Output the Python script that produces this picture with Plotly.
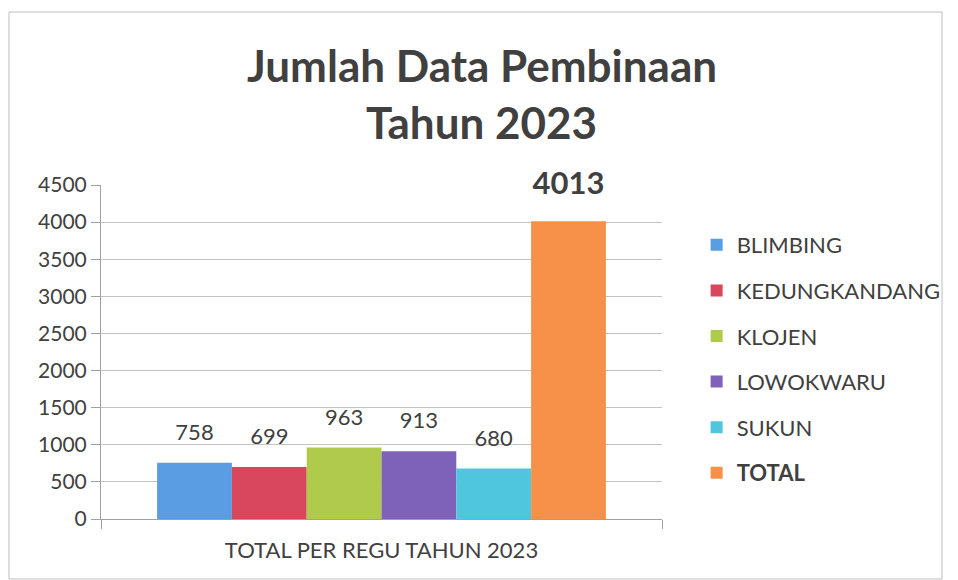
import plotly.graph_objects as go

category = ["TOTAL PER REGU TAHUN 2023"]
series_names = ["BLIMBING", "KEDUNGKANDANG", "KLOJEN", "LOWOKWARU", "SUKUN", "TOTAL"]
values = [758, 699, 963, 913, 680, 4013]
colors = ["#5A9DE2", "#D9475C", "#B0CB4C", "#7E62B9", "#4FC5DE", "#F7914A"]
title_lines = ["Jumlah Data Pembinaan", "Tahun 2023"]

W, H = 958, 580
L, R, T, B = 101, 290, 185, 61
pw, ph = W - L - R, H - T - B

def px_x(x):
    return (x - L) / pw

def px_y(y):
    return (H - B - y) / ph

FONT = "Lato"
GREY = "#404040"

fig = go.Figure()
for i, (name, v, c) in enumerate(zip(series_names, values, colors)):
    is_total = name == "TOTAL"
    if is_total:
        tmpl = "<span style='font-size:31px'><b>%{y}</b></span><br> "
    else:
        tmpl = "<span style='font-size:22px'>%{y}</span><br> "
    fig.add_trace(go.Bar(
        x=category, y=[v], name=("<b>%s</b>" % name) if is_total else name,
        marker=dict(color=c, line=dict(width=0)),
        texttemplate=tmpl,
        textposition="outside",
        textfont=dict(family=FONT, size=13 if not is_total else 16, color=GREY),
        cliponaxis=False,
        legendgroup="g%d" % i,
    ))

fig.update_layout(
    width=W, height=H,
    margin=dict(l=L, r=R, t=T, b=B),
    paper_bgcolor="white", plot_bgcolor="white",
    barmode="group", bargap=0.2, bargroupgap=0,
    font=dict(family=FONT, color=GREY),
    showlegend=True,
    legend=dict(x=px_x(703), y=px_y(224), xanchor="left", yanchor="top",
                font=dict(family=FONT, size=22, color=GREY),
                traceorder="grouped", tracegroupgap=14,
                bgcolor="rgba(0,0,0,0)"),
    xaxis=dict(showline=True, linecolor="#a0a0a0", linewidth=1,
               ticks="outside", tickson="boundaries", ticklen=9, tickcolor="#a0a0a0",
               ticklabelstandoff=12,
               tickfont=dict(family=FONT, size=22, color=GREY), showgrid=False),
    yaxis=dict(range=[0, 4500], dtick=500, showline=True, linecolor="#a0a0a0",
               ticks="outside", ticklen=9, tickcolor="#a0a0a0",
               gridcolor="#c4c4c4", gridwidth=1, zeroline=False,
               tickfont=dict(family=FONT, size=21, color=GREY)),
    shapes=[dict(type="rect", xref="paper", yref="paper",
                 x0=px_x(8), x1=px_x(951), y0=px_y(579), y1=px_y(12),
                 line=dict(color="#bdbdbd", width=1))],
)

for line, yy in zip(title_lines, [65, 122]):
    fig.add_annotation(text="<b>%s</b>" % line, xref="paper", yref="paper",
                       x=px_x(486), y=px_y(yy), xanchor="center", yanchor="middle",
                       showarrow=False, font=dict(family=FONT, size=44, color=GREY))

fig.write_html("out.html", config={"displayModeBar": False})

with open("out.html", "r", encoding="utf-8") as f:
    html = f.read()
html = html.replace("<head>", "<head><style>html,body{margin:0;padding:0;overflow:hidden;}</style>", 1)
with open("out.html", "w", encoding="utf-8") as f:
    f.write(html)
